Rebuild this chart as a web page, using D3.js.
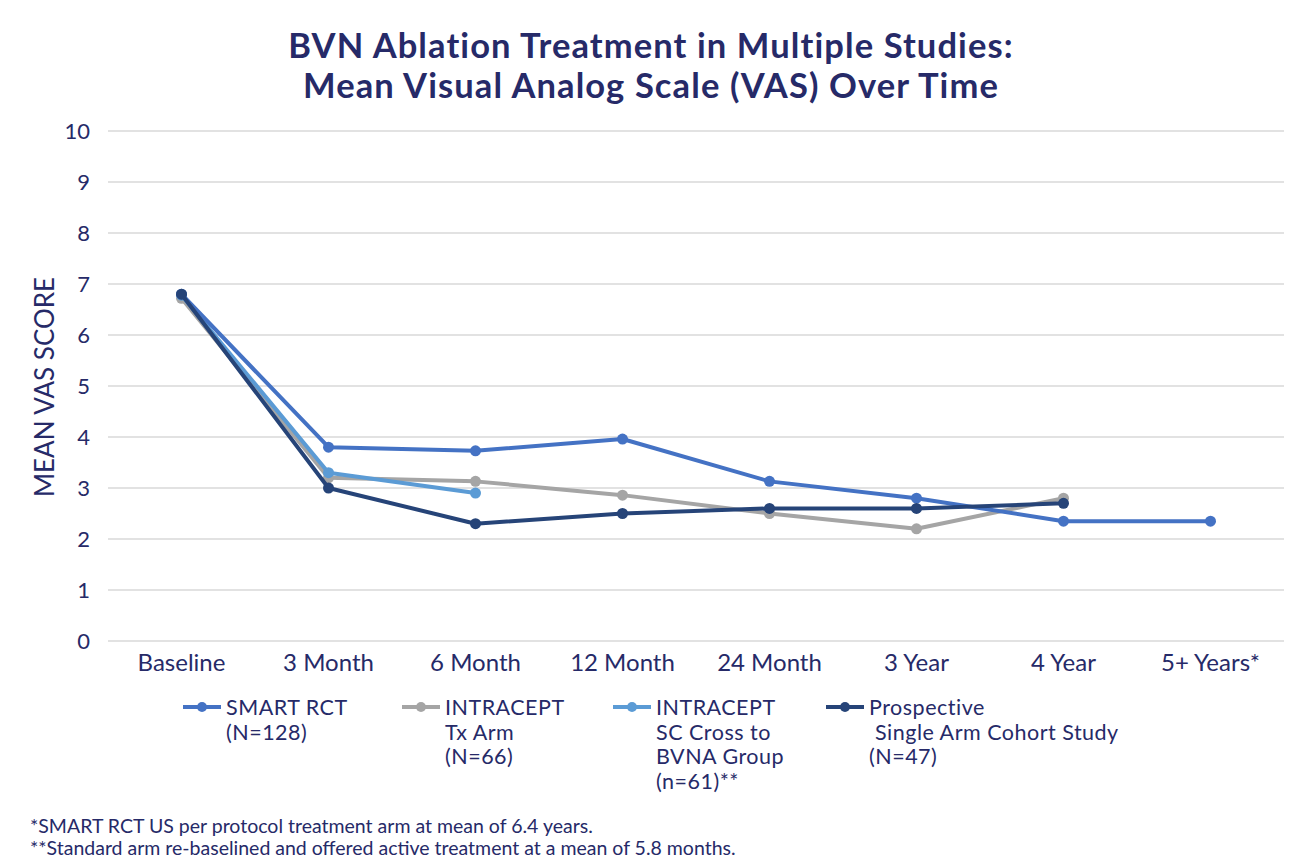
<!DOCTYPE html>
<html>
<head>
<meta charset="utf-8">
<script src="https://cdn.jsdelivr.net/npm/d3@7"></script>
<style>
  html, body { margin: 0; padding: 0; background: #fff; }
  svg { display: block; }
  text { font-family: "Lato", "Open Sans", sans-serif; fill: #262a68; }
</style>
</head>
<body>
<svg id="chart" width="1302" height="866"></svg>
<script>
const categories = ["Baseline", "3 Month", "6 Month", "12 Month", "24 Month", "3 Year", "4 Year", "5+ Years*"];
const yTicks = [0, 1, 2, 3, 4, 5, 6, 7, 8, 9, 10];

const smartRCT       = [6.8, 3.8, 3.73, 3.96, 3.13, 2.8, 2.35, 2.35];
const intraceptTx    = [6.72, 3.2, 3.13, 2.86, 2.5, 2.2, 2.8, null];
const intraceptCross = [6.78, 3.3, 2.9, null, null, null, null, null];
const prospective    = [6.8, 3.0, 2.3, 2.5, 2.6, 2.6, 2.7, null];

const seriesNames = [
  ["SMART RCT", "(N=128)"],
  ["INTRACEPT", "Tx Arm", "(N=66)"],
  ["INTRACEPT", "SC Cross to", "BVNA Group", "(n=61)**"],
  ["Prospective", " Single Arm Cohort Study", "(N=47)"]
];
const seriesColors = ["#4472c4", "#a5a5a5", "#5b9bd5", "#264478"];
const footnotes = [
  "*SMART RCT US per protocol treatment arm at mean of 6.4 years.",
  "**Standard arm re-baselined and offered active treatment at a mean of 5.8 months."
];
const titleLines = ["BVN Ablation Treatment in Multiple Studies:", "Mean Visual Analog Scale (VAS) Over Time"];

const series = [smartRCT, intraceptTx, intraceptCross, prospective];
const drawOrder = [1, 2, 0, 3];

const svg = d3.select("#chart");
const x = d3.scaleBand().domain(categories).range([108, 1284]);
const y = d3.scaleLinear().domain([0, 10]).range([641, 131]);

// title
svg.append("g").selectAll("text").data(titleLines).join("text")
  .attr("x", 651).attr("y", (d, i) => 58 + i * 40)
  .attr("text-anchor", "middle")
  .style("font-size", "34.5px").style("font-weight", "700")
  .style("letter-spacing", "1.1px")
  .text(d => d);

// gridlines
svg.append("g").selectAll("line").data(yTicks).join("line")
  .attr("x1", 108).attr("x2", 1284)
  .attr("y1", d => y(d)).attr("y2", d => y(d))
  .attr("stroke", "#d9d9d9").attr("stroke-width", 1.3);

// y axis
const yAxis = svg.append("g").attr("transform", "translate(108,0)")
  .call(d3.axisLeft(y).tickValues(yTicks).tickSize(0).tickPadding(18));
yAxis.select(".domain").remove();
yAxis.selectAll("text").style("font-size", "22px").attr("fill", "#262a68")
  .style("font-family", "Lato, 'Open Sans', sans-serif");

// x axis
const xAxis = svg.append("g").attr("transform", "translate(0,641)")
  .call(d3.axisBottom(x).tickSize(0).tickPadding(13));
xAxis.select(".domain").remove();
xAxis.selectAll("text").style("font-size", "24px").attr("fill", "#262a68")
  .style("font-family", "Lato, 'Open Sans', sans-serif");

// y axis label
svg.append("text")
  .attr("transform", "translate(54,387) rotate(-90)")
  .attr("text-anchor", "middle")
  .style("font-size", "26px")
  .text("MEAN VAS SCORE");

// lines
const line = d3.line()
  .defined(d => d.v !== null)
  .x(d => x(d.c) + x.bandwidth() / 2)
  .y(d => y(d.v));

drawOrder.forEach(si => {
  const pts = categories.map((c, i) => ({ c, v: series[si][i] }));
  const g = svg.append("g");
  g.append("path").datum(pts)
    .attr("d", line).attr("fill", "none")
    .attr("stroke", seriesColors[si]).attr("stroke-width", 4)
    .attr("stroke-linejoin", "round");
  g.selectAll("circle").data(pts.filter(d => d.v !== null)).join("circle")
    .attr("cx", d => x(d.c) + x.bandwidth() / 2)
    .attr("cy", d => y(d.v))
    .attr("r", 5.5)
    .attr("fill", seriesColors[si]);
});

// legend
const legendX = [183, 402, 613, 826];
seriesNames.forEach((lines, si) => {
  const g = svg.append("g").attr("transform", `translate(${legendX[si]},707)`);
  g.append("line").attr("x1", 0).attr("x2", 38).attr("y1", 0).attr("y2", 0)
    .attr("stroke", seriesColors[si]).attr("stroke-width", 4);
  g.append("circle").attr("cx", 19).attr("cy", 0).attr("r", 5).attr("fill", seriesColors[si]);
  g.selectAll("text").data(lines).join("text")
    .attr("x", 43).attr("y", (d, i) => 8 + i * 24.5)
    .attr("xml:space", "preserve")
    .style("white-space", "pre")
    .style("font-size", "21.5px")
    .style("letter-spacing", "0.5px")
    .text(d => d);
});

// footnotes
svg.append("g").selectAll("text").data(footnotes).join("text")
  .attr("x", 30).attr("y", (d, i) => 833 + i * 22)
  .style("font-size", "19.5px")
  .text(d => d);
</script>
</body>
</html>
